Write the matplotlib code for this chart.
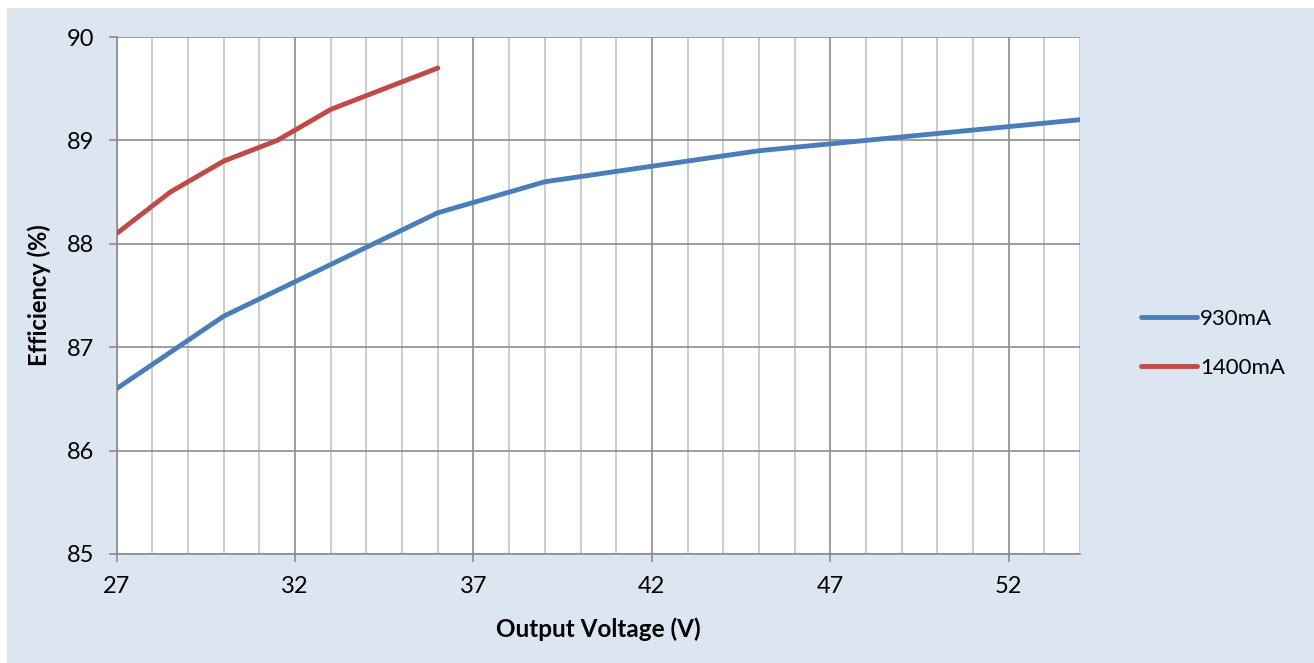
import matplotlib.pyplot as plt
from matplotlib.patches import Rectangle
from matplotlib.ticker import MultipleLocator

# data
volts_930 = [27, 30, 33, 36, 39, 42, 45, 48, 51, 54]
eff_930 = [86.6, 87.3, 87.8, 88.3, 88.6, 88.75, 88.9, 89.0, 89.1, 89.2]
volts_1400 = [27, 28.5, 30, 31.5, 33, 34.5, 36]
eff_1400 = [88.1, 88.5, 88.8, 89.0, 89.3, 89.5, 89.7]
x_ticks = [27, 32, 37, 42, 47, 52]
y_ticks = [85, 86, 87, 88, 89, 90]

plt.rcParams['font.family'] = ['Lato', 'DejaVu Sans']

fig = plt.figure(figsize=(13.14, 6.63), dpi=100)
fig.patch.set_facecolor('white')
# light blue chart area behind everything
fig.patches.append(Rectangle((7/1314, 0), 1, 1 - 8/663, transform=fig.transFigure,
                             facecolor='#DCE6F2', edgecolor='none', zorder=-10))

ax = fig.add_axes([116.7/1314, 1 - 554/663, (1080 - 116.7)/1314, (554 - 37)/663])
ax.set_facecolor('white')

ax.plot(volts_930, eff_930, color='#4A7EBB', lw=3.5, solid_capstyle='round',
        label='930mA', zorder=3)
ax.plot(volts_1400, eff_1400, color='#BE4B48', lw=3.5, solid_capstyle='round',
        label='1400mA', zorder=3)

ax.set_xlim(27, 54)
ax.set_ylim(85, 90)
ax.set_xticks(x_ticks)
ax.set_yticks(y_ticks)
ax.xaxis.set_minor_locator(MultipleLocator(1))

ax.grid(which='minor', axis='x', color='#C4C4C4', lw=1.2)
ax.grid(which='major', axis='x', color='#8C8C8C', lw=1.2)
ax.grid(which='major', axis='y', color='#8C8C8C', lw=1.2)
ax.set_axisbelow(True)

for s in ['top', 'right']:
    ax.spines[s].set_visible(False)
for s in ['left', 'bottom']:
    ax.spines[s].set_color('#8C8C8C')
    ax.spines[s].set_linewidth(1.2)

ax.tick_params(which='major', length=6, width=1.2, color='#8C8C8C',
               labelsize=17, pad=10)
ax.tick_params(which='minor', length=0)

ax.set_xlabel('Output Voltage (V)', fontsize=17.5, fontweight='bold')
ax.set_ylabel('Efficiency (%)', fontsize=17, fontweight='bold')
ax.xaxis.set_label_coords(0.5, -0.122)
ax.yaxis.set_label_coords(-0.068, 0.5)

ax.legend(loc='center left', bbox_to_anchor=(1141/1314, 1 - 343.7/663),
          bbox_transform=fig.transFigure, frameon=False, fontsize=16,
          handlelength=2.5, handletextpad=0.15, labelspacing=1.3,
          borderpad=0, borderaxespad=0)

fig.savefig('out.png', dpi=100)
